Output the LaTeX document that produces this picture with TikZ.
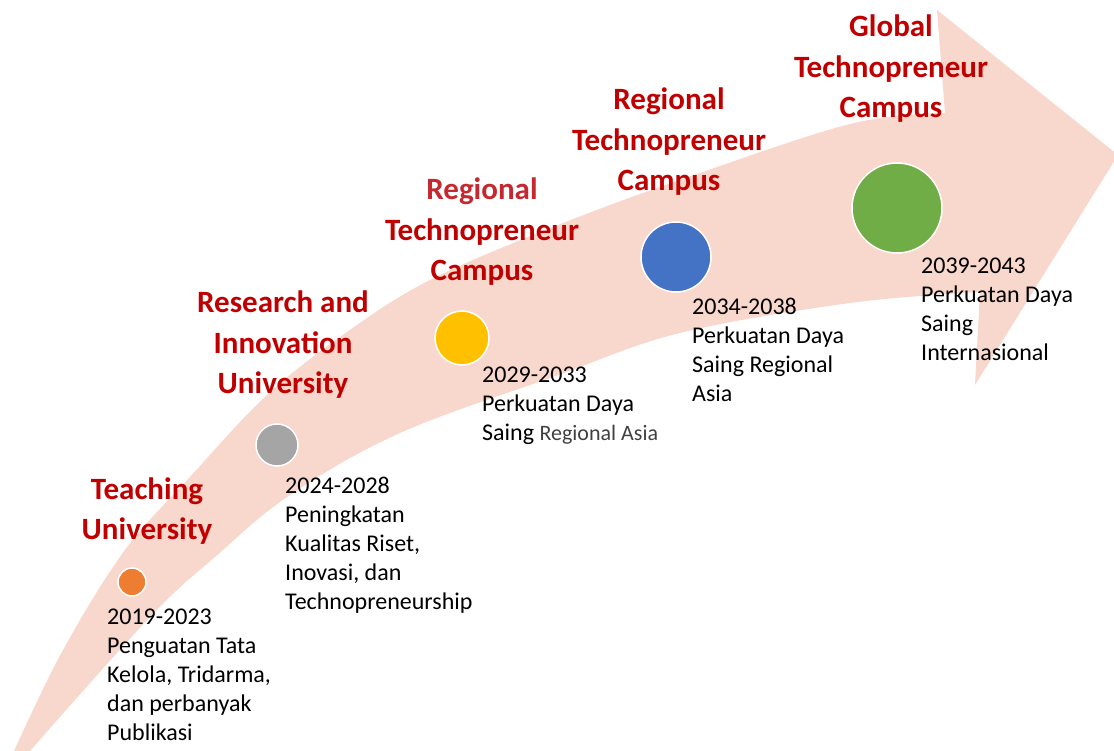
\documentclass[tikz,border=0pt]{standalone}
\usepackage{fontspec}
\setmainfont{Carlito}
\definecolor{panah}{RGB}{248,215,204}
\definecolor{judul}{RGB}{192,0,0}
\definecolor{judulmuda}{RGB}{198,40,48}
\definecolor{abu}{RGB}{64,64,64}
\definecolor{oranye}{RGB}{237,125,49}
\definecolor{kelabu}{RGB}{165,165,165}
\definecolor{kuning}{RGB}{255,192,0}
\definecolor{biru}{RGB}{68,114,196}
\definecolor{hijau}{RGB}{112,173,71}
\tikzset{
	tahap/.style={circle, draw=white, line width=1.5pt, inner sep=0pt},
	judulteks/.style={font=\fontsize{31}{40.5}\selectfont\bfseries, text=judul, align=center},
	ketteks/.style={font=\fontsize{24}{29}\selectfont, align=left, anchor=north west, inner sep=0pt},
}
\begin{document}
\begin{tikzpicture}[x=1pt, y=-1pt]
	\useasboundingbox (0,0) rectangle (1114,751);

	% Panah besar di belakang
		\fill[panah] (14,751) -- plot[smooth, tension=0.6] coordinates {(14,751) (63,650) (125,550) (190,477) (267,395) (347,332) (430,280) (553,227) (680,180) (850,124) (945,113)}
			-- (937,10) -- (1118,155) -- (975,385) -- (980,292)
			-- plot[smooth, tension=0.6] coordinates {(980,292) (850,303) (680,333) (553,377) (400,433) (290,495) (215,557) (150,617) (30,751)} -- cycle;

	% Lingkaran tiap tahap
		\node[tahap, fill=oranye, minimum size=28pt] (c1) at (132,582) {};
		\node[tahap, fill=kelabu, minimum size=42pt] (c2) at (277,445) {};
		\node[tahap, fill=kuning, minimum size=54pt] (c3) at (462,338) {};
		\node[tahap, fill=biru, minimum size=70pt] (c4) at (676,257) {};
		\node[tahap, fill=hijau, minimum size=90pt] (c5) at (897,208) {};

	% Judul tiap tahap
		\node[judulteks] (j1) at (147,511) {Teaching\\University};
		\node[judulteks] (j2) at (283,345) {Research and\\Innovation\\University};
		\node[judulteks] (j3) at (482,232) {\textcolor{judulmuda}{Regional}\\Technopreneur\\Campus};
		\node[judulteks] (j4) at (669,142) {Regional\\Technopreneur\\Campus};
		\node[judulteks] (j5) at (891,69) {Global\\Technopreneur\\Campus};

	% Keterangan tahun dan sasaran
		\node[ketteks] (k1) at (107,609) {2019-2023\\Penguatan Tata\\Kelola, Tridarma,\\dan perbanyak\\Publikasi};
		\node[ketteks] (k2) at (285,477) {2024-2028\\Peningkatan\\Kualitas Riset,\\Inovasi, dan\\Technopreneurship};
		\node[ketteks] (k3) at (482,367) {2029-2033\\Perkuatan Daya\\Saing {\fontsize{22}{29}\selectfont\color{abu}Regional Asia}};
		\node[ketteks] (k4) at (692,298) {2034-2038\\Perkuatan Daya\\Saing Regional\\Asia};
		\node[ketteks] (k5) at (921,258) {2039-2043\\Perkuatan Daya\\Saing\\Internasional};
\end{tikzpicture}
\end{document}
